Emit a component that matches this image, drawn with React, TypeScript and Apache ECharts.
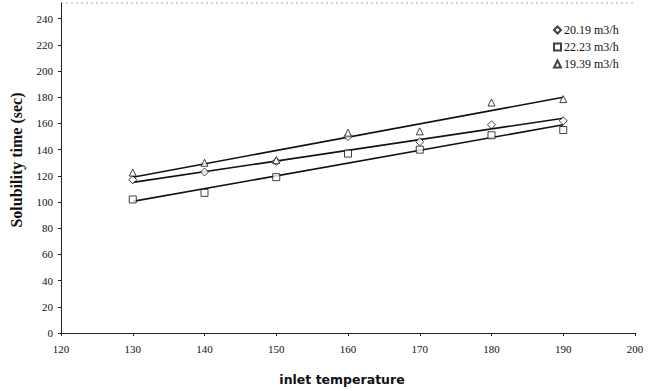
import React, { useEffect, useRef } from "react";
import * as echarts from "echarts";

const temperatures = [130, 140, 150, 160, 170, 180, 190];
const flow2019 = [117, 123, 131, 150, 146, 159, 162];
const flow2223 = [102, 107, 119, 137, 140, 151, 155];
const flow1939 = [122.5, 130, 132, 153, 154, 176, 178.6];
const trendX = [130, 190];
const trend2019 = [115, 164];
const trend2223 = [100.5, 159];
const trend1939 = [119, 180];
const seriesNames = ["20.19 m3/h", "22.23 m3/h", "19.39 m3/h"];

const pairs = (xs: number[], ys: number[]) => xs.map((x, i) => [x, ys[i]]);

export default function App() {
  const ref = useRef<HTMLDivElement>(null);
  useEffect(() => {
    if (!ref.current) return;
    const chart = echarts.init(ref.current, null, { renderer: "svg" });
    const serif = "Liberation Serif";
    const markerStyle = { color: "#ffffff", borderColor: "#111", borderWidth: 1 };
    const trendLine = (data: number[][]) => ({
      type: "line",
      data,
      showSymbol: false,
      symbol: "none",
      lineStyle: { color: "#111", width: 1.6 },
      silent: true,
      z: 1,
    });
    chart.setOption({
      animation: false,
      backgroundColor: "#ffffff",
      grid: { left: 61, right: 14, top: 3, bottom: 58 },
      legend: {
        orient: "vertical",
        left: 548,
        top: 19,
        itemGap: 5,
        itemWidth: 7,
        itemHeight: 7,
        data: seriesNames,
        textStyle: { fontFamily: serif, fontSize: 12, color: "#111", padding: [0, 0, 0, -2] },
      },
      xAxis: {
        type: "value",
        min: 120,
        max: 200,
        interval: 10,
        name: "inlet temperature",
        nameLocation: "middle",
        nameGap: 40,
        nameTextStyle: {
          fontFamily: "DejaVu Sans",
          fontWeight: "bold",
          fontSize: 12.5,
          color: "#111",
          padding: [0, 12, 0, 0],
        },
        axisLine: { show: true, lineStyle: { color: "#222", width: 1 } },
        axisTick: { show: true, length: 3, lineStyle: { color: "#222" } },
        axisLabel: { fontFamily: serif, fontSize: 11, color: "#111", margin: 10 },
        splitLine: { show: false },
      },
      yAxis: {
        type: "value",
        min: 0,
        max: 252,
        interval: 20,
        name: "Solubility time (sec)",
        nameLocation: "middle",
        nameGap: 37,
        nameTextStyle: {
          fontFamily: serif,
          fontWeight: "bold",
          fontSize: 16,
          color: "#111",
          padding: [0, 0, 0, 16],
        },
        axisLine: { show: true, lineStyle: { color: "#222", width: 1 } },
        axisTick: { show: true, length: 3, lineStyle: { color: "#222" } },
        axisLabel: {
          fontFamily: serif,
          fontSize: 11,
          color: "#111",
          margin: 8,
          showMaxLabel: false,
        },
        splitLine: { show: false },
      },
      graphic: [
        {
          type: "line",
          shape: { x1: 61, y1: 3, x2: 635, y2: 3 },
          style: { stroke: "#aaa", lineWidth: 1, lineDash: [2, 3] },
        },
      ],
      series: [
        trendLine(pairs(trendX, trend2019)),
        trendLine(pairs(trendX, trend2223)),
        trendLine(pairs(trendX, trend1939)),
        {
          name: seriesNames[0],
          type: "scatter",
          data: pairs(temperatures, flow2019),
          symbol: "diamond",
          symbolSize: 8,
          itemStyle: markerStyle,
          z: 3,
        },
        {
          name: seriesNames[1],
          type: "scatter",
          data: pairs(temperatures, flow2223),
          symbol: "rect",
          symbolSize: 7,
          itemStyle: markerStyle,
          z: 3,
        },
        {
          name: seriesNames[2],
          type: "scatter",
          data: pairs(temperatures, flow1939),
          symbol: "triangle",
          symbolSize: 7,
          itemStyle: markerStyle,
          z: 3,
        },
      ],
    });
    return () => chart.dispose();
  }, []);
  return <div ref={ref} style={{ width: 649, height: 391, position: "absolute", left: 0, top: 0 }} />;
}
